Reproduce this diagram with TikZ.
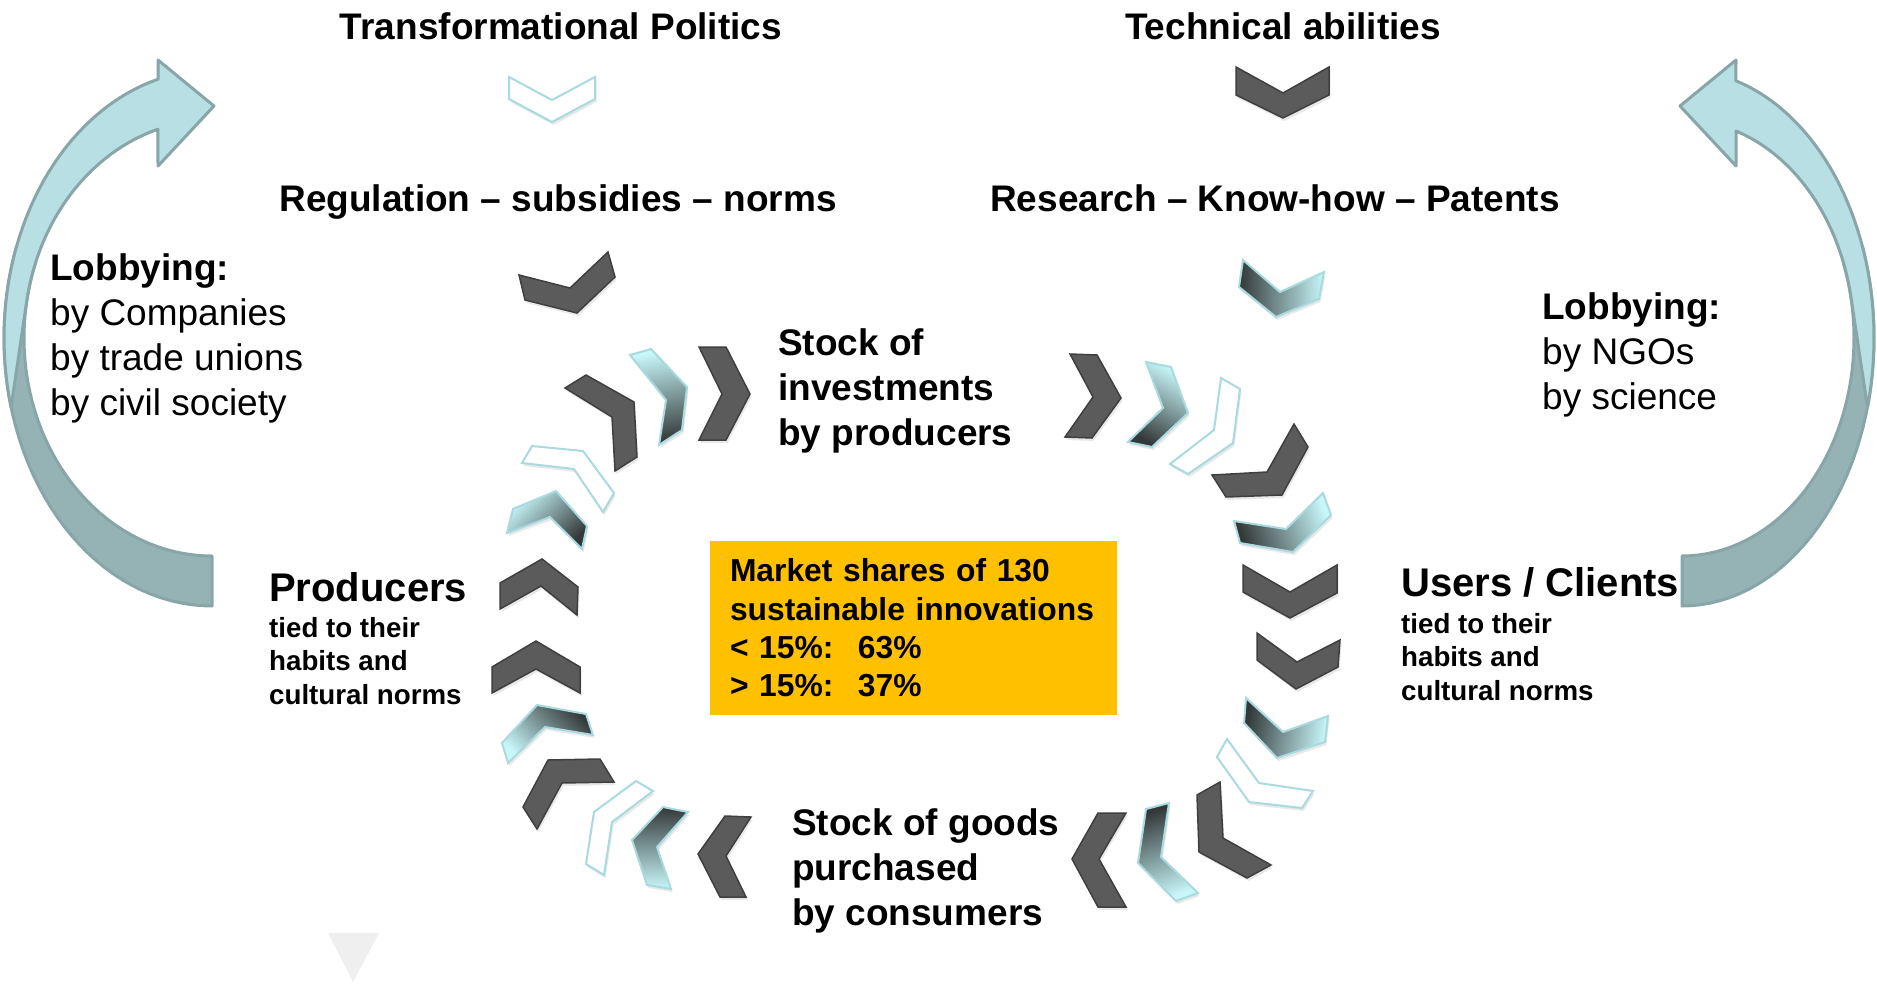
\documentclass[tikz,border=0pt]{standalone}
\usepackage{fontspec}
\setmainfont{Liberation Sans}
\usetikzlibrary{shadows}
\definecolor{chevgray}{HTML}{5B5B5B}
\definecolor{chevedge}{HTML}{3F3F3F}
\definecolor{chevcyan}{HTML}{C8F7FA}
\definecolor{chevdeep}{HTML}{333838}
\definecolor{chevline}{HTML}{A8DADF}
\definecolor{lobbylight}{HTML}{B8DFE3}
\definecolor{lobbydark}{HTML}{95B3B5}
\definecolor{lobbyedge}{HTML}{88A6A8}
\definecolor{shareyellow}{HTML}{FFC000}
\definecolor{markgray}{HTML}{EFEFEF}

\begin{document}
\begin{tikzpicture}[x=1pt, y=-1pt]
            \tikzstyle{chev} = [line width=1.5, drop shadow={opacity=0.18, shadow xshift=1.5pt, shadow yshift=-3pt}]
            \tikzstyle{darkchev} = [chev, fill=chevgray, draw=chevedge]
            \tikzstyle{gradchev} = [chev, top color=chevcyan, bottom color=chevdeep, draw=chevline, line width=2]
            \tikzstyle{linechev} = [chev, fill=white, draw=chevline, line width=2]
            \tikzstyle{lobbyfront} = [fill=lobbylight, draw=lobbyedge, line width=3, line join=round]
            \tikzstyle{lobbyback} = [fill=lobbydark, draw=lobbyedge, line width=3, line join=round]
            \tikzstyle{title} = [font=\fontsize{37}{45}\selectfont\bfseries, anchor=base, inner sep=0]
            \tikzstyle{lobby} = [font=\fontsize{37}{45}\selectfont, align=left, anchor=north west, inner sep=0]
            \tikzstyle{stock} = [font=\fontsize{37}{45}\selectfont\bfseries, align=left, anchor=north west, inner sep=0]
            \tikzstyle{actor} = [font=\fontsize{40}{48}\selectfont\bfseries, anchor=north west, inner sep=0]
            \tikzstyle{habit} = [font=\fontsize{27.7}{33.5}\selectfont\bfseries, align=left, anchor=north west, inner sep=0]
            \useasboundingbox (0,0) rectangle (1877,983);

            % lobbying arrows
            \draw[lobbyback] plot[domain=90:200, samples=40, variable=\t] ({212+188*cos(\t)},{338+218*sin(\t)}) -- plot[domain=200:90, samples=40, variable=\t] ({212+208*cos(\t)},{338+268*sin(\t)}) -- cycle;
            \draw[lobbyfront] (158,60) -- (214,106) -- (158,166) -- plot[domain=253.3:190, samples=40, variable=\t] ({212+188*cos(\t)},{338+218*sin(\t)}) -- plot[domain=165:255, samples=40, variable=\t] ({212+208*cos(\t)},{338+268*sin(\t)}) -- cycle;
            \draw[lobbyback] plot[domain=90:-20, samples=40, variable=\t] ({1682+172*cos(\t)},{338+218*sin(\t)}) -- plot[domain=-20:90, samples=40, variable=\t] ({1682+192*cos(\t)},{338+268*sin(\t)}) -- cycle;
            \draw[lobbyfront] (1736,60) -- (1680,106) -- (1736,166) -- plot[domain=-71.7:-10, samples=40, variable=\t] ({1682+172*cos(\t)},{338+218*sin(\t)}) -- plot[domain=15:-73.7, samples=40, variable=\t] ({1682+192*cos(\t)},{338+268*sin(\t)}) -- cycle;

            \node[title] (politics) at (561,39) {Transformational Politics};
            \node[title] (abilities) at (1283,39) {Technical abilities};
            \node[title] (regulation) at (558,211) {Regulation -- subsidies -- norms};
            \node[title] (research) at (1275,211) {Research -- Know-how -- Patents};
            \node[lobby] (lobbyleft) at (50,253) {{\bfseries Lobbying:}\\by Companies\\by trade unions\\by civil society};
            \node[lobby] (lobbyright) at (1542,292) {{\bfseries Lobbying:}\\by NGOs\\by science};
            \node[stock] (investments) at (778,328) {Stock of\\investments\\by producers};
            \node[stock] (goods) at (792,808) {Stock of goods\\purchased\\by consumers};
            \node[actor] (producers) at (269,572) {Producers};
            \node[habit] (producerhabits) at (269,617) {tied to their\\habits and\\cultural norms};
            \node[actor] (users) at (1401,567) {Users / Clients};
            \node[habit] (userhabits) at (1401,613) {tied to their\\habits and\\cultural norms};
            \node[fill=shareyellow, minimum width=407pt, minimum height=174pt, text width=367pt, inner xsep=20pt, inner ysep=0pt, align=left, font=\fontsize{31.8}{38.3}\selectfont\bfseries] (shares) at (913.5,628) {Market shares of 130\\sustainable innovations\\\makebox[128pt][l]{< 15\%:}63\%\\\makebox[128pt][l]{> 15\%:}37\%};

            \draw[linechev] (509,77) -- (552,100) -- (595,77) -- (595,99) -- (552,122) -- (509,99) -- cycle;
            \draw[darkchev] (519,275) -- (570,288) -- (608,252) -- (615,277) -- (577,313) -- (525,300) -- cycle;
            \draw[darkchev] (1236,67) -- (1283,93) -- (1329,67) -- (1329,95) -- (1283,118) -- (1236,95) -- cycle;
            \draw[gradchev, shading angle=-90] (1243,260) -- (1280,292) -- (1324,272) -- (1319,299) -- (1276,317) -- (1239,287) -- cycle;

            % loop, left side going up
            \draw[darkchev] (492,667) -- (536,641) -- (580,667) -- (580,693) -- (536,669) -- (492,693) -- cycle;
            \draw[darkchev] (500,583) -- (542,559) -- (578,587) -- (577,615) -- (541,586) -- (500,609) -- cycle;
            \draw[gradchev, shading angle=45] (513,509) -- (556,491) -- (587,526) -- (582,549) -- (550,517) -- (507,533) -- cycle;
            \draw[linechev] (532,446) -- (583,451) -- (614,493) -- (603,512) -- (574,469) -- (522,463) -- cycle;
            \draw[darkchev] (586,375) -- (634,402) -- (637,457) -- (615,471) -- (612,417) -- (565,388) -- cycle;
            \draw[gradchev, shading angle=10] (651,349) -- (687,387) -- (682,430) -- (659,445) -- (666,400) -- (630,355) -- cycle;
            \draw[darkchev] (699,347) -- (726,347) -- (750,394) -- (726,440) -- (699,440) -- (722,394) -- cycle;
            % right side going down
            \draw[darkchev] (1070,354) -- (1097,355) -- (1121,398) -- (1092,438) -- (1065,437) -- (1093,397) -- cycle;
            \draw[gradchev, shading angle=-30] (1146,362) -- (1171,367) -- (1188,413) -- (1152,447) -- (1128,442) -- (1163,408) -- cycle;
            \draw[linechev] (1221,378) -- (1240,389) -- (1233,443) -- (1188,474) -- (1170,464) -- (1214,430) -- cycle;
            \draw[darkchev] (1294,424) -- (1308,447) -- (1282,495) -- (1226,497) -- (1212,475) -- (1267,472) -- cycle;
            \draw[gradchev, shading angle=-70] (1323,493) -- (1331,515) -- (1293,552) -- (1240,543) -- (1234,521) -- (1286,529) -- cycle;
            \draw[darkchev] (1243,565) -- (1290,592) -- (1337,565) -- (1337,593) -- (1290,618) -- (1243,592) -- cycle;
            \draw[darkchev] (1257,633) -- (1297,662) -- (1340,640) -- (1338,667) -- (1296,689) -- (1257,660) -- cycle;
            \draw[gradchev, shading angle=-100] (1246,698) -- (1283,732) -- (1328,716) -- (1325,742) -- (1277,758) -- (1244,723) -- cycle;
            \draw[linechev] (1227,739) -- (1259,783) -- (1313,791) -- (1302,808) -- (1249,802) -- (1217,757) -- cycle;
            \draw[darkchev] (1220,782) -- (1223,838) -- (1271,865) -- (1247,878) -- (1199,852) -- (1197,795) -- cycle;
            \draw[gradchev, shading angle=200] (1169,803) -- (1161,857) -- (1198,893) -- (1176,901) -- (1138,863) -- (1146,809) -- cycle;
            \draw[darkchev] (1126,813) -- (1099,859) -- (1126,907) -- (1098,907) -- (1072,859) -- (1098,813) -- cycle;
            % bottom going left
            \draw[darkchev] (751,817) -- (726,856) -- (746,897) -- (720,897) -- (698,854) -- (725,816) -- cycle;
            \draw[gradchev, shading angle=180] (688,812) -- (657,847) -- (671,889) -- (647,885) -- (632,840) -- (663,807) -- cycle;
            \draw[linechev] (653,791) -- (612,822) -- (604,875) -- (586,864) -- (594,812) -- (636,781) -- cycle;
            \draw[darkchev] (600,759) -- (614,782) -- (562,783) -- (537,829) -- (523,807) -- (548,760) -- cycle;
            \draw[gradchev, shading angle=135] (586,714) -- (593,735) -- (545,727) -- (508,763) -- (502,743) -- (537,705) -- cycle;

            \fill[markgray] (328,933) -- (379,933) -- (353,982) -- cycle;
        \end{tikzpicture}
\end{document}
